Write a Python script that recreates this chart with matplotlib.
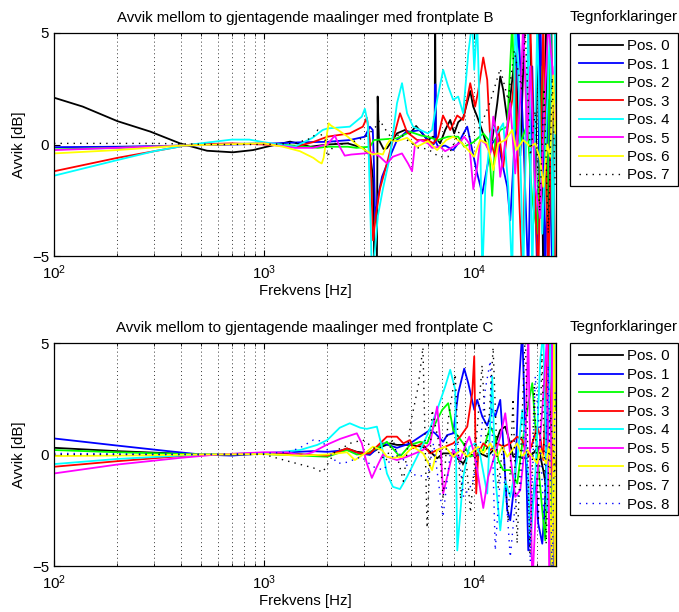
import matplotlib
matplotlib.use("Agg")
import matplotlib.pyplot as plt
from matplotlib.lines import Line2D
from matplotlib.patches import Rectangle
from matplotlib.ticker import LogLocator, NullFormatter, FixedLocator, LogFormatterSciNotation

plt.rcParams['font.family'] = ['Liberation Sans', 'DejaVu Sans']
plt.rcParams['font.size'] = 10.8
plt.rcParams['mathtext.fontset'] = 'custom'
plt.rcParams['mathtext.rm'] = 'Liberation Sans'

FS = 10.8

# ---------------- Frontplate B ----------------
b0_f = [100, 137, 200, 287, 398, 535, 710, 886, 1030, 1330, 1660, 2000, 2500, 2950, 3200, 3300, 3350, 3440,
        3470, 3520, 3700, 3840, 4290, 4680, 4950, 5290, 5650, 6020, 6370, 6480, 6516, 6560, 6885, 7275,
        7685, 8030, 8390, 8860, 9570, 9890, 10330, 10920, 11530, 12180, 12870, 13300, 13740, 14360,
        14840, 15670, 16560, 17490, 18480, 19520, 20170, 20800, 21310, 22000, 22510, 23260, 23780, 24300]
b0_db = [2.1, 1.7, 1.05, 0.58, 0.05, -0.28, -0.35, -0.25, -0.1, 0.13, -0.1, 0.0, 0.05, -0.15, -0.5, -1.5, -6, -6,
         2.15, 0.2, -0.2, -0.17, 0.5, 0.65, 0.5, 0.83, 0.5, 0.2, 0.35, 0.3, 6.0, 0.3, 0.05, 0.65,
         1.1, 0.5, 1.0, 1.2, 2.4, 1.7, 1.25, 0.6, -0.1, 0.2, 1.85, 3.05, 2.45, 1.1,
         2.1, 4.1, -0.5, 6.0, 4.5, -1.9, 6.0, 2.0, -6, 6.0, -6, 6.0, -6, 4.0]

b1_f = [100, 200, 400, 700, 1000, 1500, 2000, 2557, 3016, 3186, 3290, 3330, 3380, 3480, 3640, 3970,
        4290, 4790, 4950, 5530, 5970, 6400, 6480, 6530, 6580, 6730, 7280, 7940, 8390, 9260, 9780,
        10330, 10920, 11530, 12180, 12870, 13600, 14360, 14840, 15670, 16200, 17110, 18080, 18890,
        19950, 20620, 21780, 22510, 23520, 24300]
b1_db = [-0.12, -0.1, -0.05, 0.0, 0.03, 0.1, 0.12, 0.2, 0.35, 0.8, 0.65, -0.8, -3.4, -2.35, -1.45, -0.55,
         0.2, 0.6, 0.57, 0.65, 0.2, 0.0, 0.1, 2.7, 0.1, -0.1, -0.05, -0.25, 0.05, 0.8, -0.25,
         -1.3, -2.2, -1.0, 0.05, 0.35, -0.85, -1.9, -3.4, 0.6, 5.5, 0.5, -6, 3.5,
         -6, 6.0, -6, 2.0, -6, 5.0]

b2_f = [100, 200, 400, 700, 1000, 1400, 1800, 2000, 2500, 2750, 3190, 3330, 3680, 4290, 4790, 4950,
        5600, 6000, 6700, 7500, 8390, 8960, 9900, 11040, 11700, 12180, 12590, 13300, 14360, 15170,
        15670, 16560, 17880, 18890, 19950, 21080, 22270, 23010, 23780, 24300]
b2_db = [-0.22, -0.15, -0.05, 0.02, 0.05, -0.05, -0.15, -0.1, -0.1, -0.15, -0.1, 0.2, 0.23, 0.28, 0.5, 0.57,
         0.4, 0.35, 0.2, 0.35, 0.35, -0.1, 0.1, 0.5, 0.2, -2.3, 0.2, 0.65, 0.8, 5.5,
         0.8, 0.05, 0.9, -2.5, -4.0, 3.5, -3.4, 5.5, -6, 5.0]

b3_f = [100, 200, 300, 450, 700, 1000, 1400, 1700, 2000, 2557, 2950, 3083, 3186, 3300, 3400, 3556,
        3841, 4100, 4433, 4790, 5350, 6000, 6400, 6733, 7100, 7685, 8300, 8860, 9570, 10100, 10450,
        11040, 11530, 11920, 12590, 13000, 13740, 14520, 15170, 15670, 16200, 16930, 17880, 18480,
        19520, 20170, 21310, 22510, 23520, 24300]
b3_db = [-1.2, -0.6, -0.3, 0.0, 0.05, 0.0, -0.1, 0.1, 0.35, 0.5, 0.8, 1.2, 0.2, -4.3, -3.2, -2.0,
         -0.85, 0.2, 1.4, 0.55, 0.2, 0.2, 0.05, 0.35, 1.3, 0.65, 1.3, 1.1, 2.75, 1.7, 2.4,
         3.9, 2.9, 0.2, -0.55, 0.8, -1.0, 0.95, 2.0, 3.5, -1.3, -6, 2.8, 5.5,
         -2.5, -6, 5.5, -6, 3.5, -6]

b4_f = [100, 200, 300, 450, 700, 850, 1000, 1400, 1700, 1900, 2000, 2557, 2918, 3016, 3117, 3220,
        3257, 3366, 3479, 3675, 3970, 4290, 4532, 4790, 5115, 5525, 6020, 6300, 6660, 7115, 7518,
        7943, 8390, 8860, 9370, 9780, 10000, 10330, 10680, 10920, 11280, 11920, 12320, 12870, 13740,
        14520, 15170, 15670, 16200, 17110, 18080, 18890, 19950, 21080, 23010, 23780, 24300]
b4_db = [-1.4, -0.7, -0.3, 0.0, 0.22, 0.22, 0.1, -0.1, 0.3, 0.65, 0.72, 0.8, 1.25, 1.6, 0.95, -3.8,
         -6, -4.8, -3.2, -2.0, -0.55, 1.85, 2.75, 1.4, 0.8, 0.65, 0.5, 0.65, 2.0, 3.35, 2.6,
         2.0, 2.15, 1.4, 4.1, 5.5, 3.35, 5.5, 0.5, -6, -2.0, 0.5, 0.8, 0.5, 0.95,
         -1.9, -6, 5.5, 3.5, -6, 5.5, -6, 5.5, -4.0, 5.5, -6, 5.5]

b5_f = [100, 200, 400, 600, 1000, 1400, 1700, 2000, 2170, 2290, 2420, 2600, 3000, 3290, 3556, 3840,
        4100, 4530, 4840, 5060, 5230, 5525, 6020, 6300, 6885, 7270, 7940, 8480, 8960, 9470, 9900,
        10330, 10680, 11280, 11920, 12320, 12870, 13300, 13740, 14840, 15670, 16560, 17110, 17880,
        18480, 19520, 20620, 21310, 22510, 23520, 24300]
b5_db = [-0.25, -0.15, -0.05, 0.0, 0.05, -0.15, -0.15, 0.0, 0.4, -0.1, -0.5, -0.45, -0.4, -0.35, -0.55, -0.85,
         -0.55, -0.4, -0.85, -1.2, 0.05, 0.2, 0.05, -0.15, -0.1, -0.3, -0.1, 0.05, 0.35, 0.05, -2.0,
         -1.0, 0.2, 0.05, -0.4, 1.25, 0.35, -1.45, -0.55, 1.85, -1.3, 2.0, 5.5, 0.2,
         3.5, -1.9, -3.3, 0.5, 5.5, 3.5, 1.1]

b6_f = [100, 200, 400, 600, 1000, 1230, 1480, 1716, 1820, 1880, 1920, 1960, 2000, 2030, 2080, 2250, 2500,
        2760, 3016, 3290, 3500, 3675, 3840, 3970, 4290, 4790, 5345, 6020, 6660, 7360, 7940, 8770,
        9990, 10680, 11530, 12320, 13010, 14050, 15170, 15850, 17110, 18480, 19520, 20620, 21310,
        22270, 23010, 23780, 24300]
b6_db = [-0.4, -0.25, -0.05, 0.0, 0.05, -0.1, -0.3, -0.6, -0.78, -0.85, -0.6, 0.0, 0.6, 0.95, 0.85, 0.65, 0.35,
         0.0, -0.25, -0.45, -0.4, -0.45, 0.0, 0.2, 0.15, 0.3, -0.1, 0.15, -0.25, 0.2, 0.35, 0.05,
         -0.55, 0.2, 0.05, -1.15, 0.05, 0.2, 0.65, -0.25, 0.2, -0.1, 0.05, -0.7, -1.9,
         0.0, -0.55, 3.1, 0.5]

b7_f = [100, 300, 600, 1000, 1400, 1700, 1800, 1950, 2000, 2170, 2420, 2800, 3100, 3400, 3556, 3700,
        4100, 4430, 4790, 5400, 6000, 6800, 7500, 8500, 9500, 10700, 11900, 13300, 14500, 15500,
        16800, 17500, 18500, 19500, 20500, 21500, 22500, 23500, 24300]
b7_db = [0.05, 0.05, 0.0, 0.0, 0.05, 0.3, 0.65, 0.2, -0.55, 0.05, 0.0, 0.2, 0.4, 0.8, 1.1, 0.8,
         0.2, 0.5, 0.2, -0.15, -0.2, -0.55, -0.55, 0.6, 0.35, 0.8, 1.9, 3.4, 2.0, 4.2,
         2.5, 5.0, -0.5, 1.5, -3.0, 2.5, -4.0, 3.0, -2.0]

# ---------------- Frontplate C ----------------
c0_f = [100, 200, 500, 1000, 1500, 1800, 2000, 2480, 2760, 3186, 3635, 3970, 4290, 4950, 5650, 6166,
        6660, 7115, 7940, 8300, 8860, 9470, 10110, 10680, 11530, 12320, 13300, 14050, 14520, 15340,
        16200, 17110, 18080, 19100, 20170, 21310, 22270, 23010, 23780, 24300]
c0_db = [0.3, 0.15, 0.0, 0.05, 0.0, -0.05, -0.05, 0.27, 0.12, 0.05, 0.35, 0.5, 0.43, 0.43, 0.35, 0.13,
         -0.17, 0.05, 0.05, -0.17, -0.4, 0.05, -0.1, 0.05, -0.1, 0.2, 1.1, 1.25, 0.8, -0.1,
         -0.1, -0.17, -0.1, 0.05, 0.35, -0.7, -1.75, -1.0, 0.2, -0.5]

c1_f = [100, 200, 350, 500, 700, 1000, 1300, 1700, 2000, 2480, 2855, 3186, 3675, 4290, 4950, 5525,
        6166, 6516, 7115, 7430, 7940, 8390, 8960, 9370, 9680, 10010, 10330, 10920, 11530, 12180,
        12590, 13300, 13740, 14360, 14840, 15670, 16200, 16930, 17490, 18080, 18890, 19520, 20170,
        21080, 21780, 22510, 23260, 23780, 24300]
c1_db = [0.72, 0.4, 0.15, 0.0, -0.05, 0.05, 0.1, 0.15, 0.12, 0.2, 0.05, -0.02, 0.5, 0.3, 0.5, 0.8,
         1.1, 0.95, 0.57, 0.87, 0.95, 2.75, 3.85, 3.2, 2.6, 2.0, 2.45, 1.7, 1.3, 2.0,
         1.7, 2.45, 0.5, -2.5, -2.95, -1.0, 2.75, 5.5, 1.1, -4.3, -2.5, -1.0, -3.1,
         -4.0, -1.9, 3.5, 5.5, -6, -6]

c2_f = [100, 200, 500, 1000, 1500, 2000, 2480, 2760, 3083, 3441, 3841, 4433, 4950, 5525, 5966, 6373,
        7038, 7518, 7943, 8394, 8863, 9570, 10330, 11040, 11920, 12590, 13010, 13740, 14840, 16020,
        16930, 17880, 18890, 19950, 21080, 21780, 22510, 23010, 23780, 24300]
c2_db = [0.2, 0.1, 0.0, 0.02, -0.05, -0.1, 0.2, 0.0, 0.05, 0.28, 0.57, -0.1, 0.43, 0.57, 0.5, 1.2,
         2.0, 2.3, 1.1, 0.8, 0.5, -0.1, 0.05, 0.2, 1.25, 0.8, -0.25, -0.7, -0.7, -1.3,
         0.5, 2.0, 3.2, 0.05, -2.5, -3.85, 0.5, -6, 5.5, 2.0]

c3_f = [100, 200, 500, 1000, 1500, 2000, 2480, 2855, 3186, 3841, 4290, 4600, 4950, 5115, 5648, 6166,
        6660, 7275, 7937, 8580, 9264, 9783, 10000, 10220, 10450, 11040, 11920, 12870, 13740, 14840,
        16020, 16930, 17880, 18890, 19950, 20620, 21310, 22510, 23520, 24300]
c3_db = [-0.55, -0.3, 0.0, 0.02, 0.0, -0.05, 0.27, 0.05, 0.05, 0.8, 0.8, 0.5, 0.65, 0.28, 0.5, 0.05,
         0.2, 0.35, 0.5, 0.8, 1.25, 2.75, 4.4, -1.75, 0.05, 0.5, 0.2, 0.5, 0.35, 0.5,
         0.8, 0.65, -0.1, 0.5, 1.25, 0.8, -0.25, 5.5, -1.0, 5.5]

c4_f = [100, 200, 500, 1000, 1480, 1790, 2000, 2290, 2557, 2870, 3083, 3441, 3635, 3841, 4103, 4433,
        4790, 5345, 6000, 6660, 7275, 7685, 8121, 8303, 8865, 9470, 10110, 10680, 11530, 12180,
        12590, 13300, 14050, 14840, 16020, 16930, 18080, 18480, 19520, 20620, 21310, 22270, 23010,
        23780, 24300]
c4_db = [-0.43, -0.2, 0.0, 0.05, 0.2, 0.43, 0.65, 1.2, 1.4, 1.2, 1.15, 1.25, 0.35, -0.85, -1.45, -1.55,
         -1.0, -0.1, 0.9, 2.0, 3.05, 3.8, 2.9, -4.3, -1.0, 0.35, 0.5, -0.05, -1.75, 3.5,
         -1.0, -3.4, -1.2, -1.9, -0.25, 2.0, -1.0, -4.0, -1.0, 4.2, 5.5, -2.5, 5.5,
         0.5, 5.5]

c5_f = [100, 200, 400, 600, 1000, 1300, 1500, 1700, 2000, 2300, 2762, 2918, 3083, 3257, 3441, 3675,
        3841, 4289, 4788, 5229, 5700, 6166, 6660, 6885, 7115, 7436, 7943, 8580, 9160, 9470, 9900,
        10330, 11040, 11660, 12320, 13300, 14050, 14840, 15670, 16560, 17490, 18080, 18890, 19950,
        21080, 22270, 22760, 23520, 24300]
c5_db = [-0.85, -0.45, -0.15, 0.0, 0.1, 0.1, -0.05, 0.1, 0.45, 0.7, 0.95, 0.5, -0.4, -1.05, -0.55, 0.0,
         -0.1, -0.25, -0.1, 0.05, 0.2, 0.5, 2.15, 0.65, -1.75, -1.0, 0.2, -0.25, 0.5, 0.8, 0.2,
         -0.7, -2.4, -1.0, -0.25, 0.8, 1.85, 0.0, -1.9, -1.6, 0.5, 5.5, -6, -1.0,
         2.0, 5.5, -6, 5.5, -6]

c6_f = [100, 200, 500, 1000, 1500, 2000, 2480, 2702, 3016, 3293, 3635, 3841, 4100, 4580, 5115, 5710,
        6303, 6660, 7275, 7943, 8580, 9264, 10010, 10450, 11040, 11920, 12870, 13600, 14360, 15170,
        16020, 16930, 17880, 18890, 19950, 20620, 21310, 22000, 22760, 23520, 24000, 24300]
c6_db = [-0.07, -0.05, 0.0, 0.02, -0.05, 0.0, 0.1, -0.25, 0.05, 0.35, 0.2, -0.1, -0.15, -0.1, 0.35, 0.05,
         -0.7, 0.2, 0.35, -0.1, 0.2, -0.1, 0.2, 0.35, 0.05, 0.5, -0.1, 0.35, -0.1, 0.2,
         0.5, -0.1, 0.2, -0.1, -0.4, 0.2, -0.1, -0.4, 0.5, -6, 5.5, -6]

c7_f = [100, 500, 1000, 1300, 1716, 1900, 2000, 2200, 2370, 2557, 2950, 3441, 3800, 4100, 4600, 5000,
        5400, 5700, 5966, 6300, 6800, 7115, 7500, 8121, 8600, 9000, 9600, 10300, 10900, 11500,
        12300, 13000, 13700, 14500, 15300, 16000, 16800, 17500, 18400, 19300, 20200, 21000, 22000,
        23000, 24300]
c7_db = [0.0, 0.0, 0.0, -0.3, -0.6, -0.8, -0.45, 0.2, 0.3, 0.5, 0.65, 0.2, -0.3, 0.7, -1.2, 1.5,
         3.0, 4.8, -3.3, 2.0, 0.5, -2.0, 1.5, 3.6, -2.0, 0.6, -2.6, 1.0, 4.0, 0.0,
         4.8, -1.5, 0.5, -3.0, 2.5, -4.0, 1.0, 5.5, -4.5, 3.0, -3.0, 4.5, -4.0,
         2.0, -1.0]

c8_f = [100, 500, 1000, 1300, 1480, 1716, 1900, 2000, 2230, 2480, 2900, 3300, 3700, 4300, 5100, 6000,
        6400, 7100, 7700, 8300, 8900, 9800, 10700, 11280, 11920, 12590, 13300, 14050, 14840, 15670,
        16560, 17490, 18480, 19520, 20620, 21500, 22500, 23500, 24300]
c8_db = [0.05, 0.0, 0.05, 0.1, 0.3, 0.65, 0.6, 0.2, -0.4, -0.35, -0.1, -0.55, -0.7, 0.2, -0.9, -1.0,
         0.5, -2.8, 0.1, 0.6, -1.9, -1.3, 0.5, 2.9, 4.2, -4.3, -1.0, -1.3, -4.6, -2.2,
         -1.6, 1.9, -4.8, 3.5, 0.5, -3.0, 4.0, -5.5, 3.0]

labels_b = ['Pos. 0', 'Pos. 1', 'Pos. 2', 'Pos. 3', 'Pos. 4', 'Pos. 5', 'Pos. 6', 'Pos. 7']
labels_c = labels_b + ['Pos. 8']
titles = ['Avvik mellom to gjentagende maalinger med frontplate B',
          'Avvik mellom to gjentagende maalinger med frontplate C']
legend_title = 'Tegnforklaringer'
xlabel = 'Frekvens [Hz]'
ylabel = 'Avvik [dB]'

# MATLAB-like colour order used for the positions
DOT = (0, (1, 3.7))
styles = [('#000000', '-'), ('#0000ff', '-'), ('#00ff00', '-'), ('#ff0000', '-'), ('#00ffff', '-'),
          ('#ff00ff', '-'), ('#ffff00', '-'), ('#000000', DOT), ('#0000ff', DOT)]

series_b = [(b0_f, b0_db), (b1_f, b1_db), (b2_f, b2_db), (b3_f, b3_db), (b4_f, b4_db),
            (b5_f, b5_db), (b6_f, b6_db), (b7_f, b7_db)]
series_c = [(c0_f, c0_db), (c1_f, c1_db), (c2_f, c2_db), (c3_f, c3_db), (c4_f, c4_db),
            (c5_f, c5_db), (c6_f, c6_db), (c7_f, c7_db), (c8_f, c8_db)]

W, H = 679, 612
fig = plt.figure(figsize=(W / 100, H / 100), dpi=100)


def fx(px):
    return px / W


def fy(py):
    return 1 - py / H


def add_axes_px(left, top, right, bottom):
    return fig.add_axes([fx(left), fy(bottom), (right - left) / W, (bottom - top) / H])


def line_width(ls):
    return 1.0 if isinstance(ls, tuple) else 1.3


def draw_legend(top, labels, row_step):
    """Boxed legend to the right of a panel (pixel layout, MATLAB style)."""
    n = len(labels)
    first = top + 12
    bottom = first + row_step * (n - 1) + 11.5
    fig.add_artist(Rectangle((fx(570), fy(bottom)), (678 - 570) / W, (bottom - top) / H,
                             transform=fig.transFigure, facecolor='white', edgecolor='black',
                             linewidth=0.9, zorder=5))
    for i, (lab, (col, ls)) in enumerate(zip(labels, styles)):
        yc = first + row_step * i
        fig.add_artist(Line2D([fx(579), fx(623)], [fy(yc), fy(yc)], transform=fig.transFigure,
                              color=col, linestyle=ls, linewidth=line_width(ls), zorder=6))
        fig.text(fx(627), fy(yc + 5.3), lab, ha='left', va='baseline', fontsize=FS, zorder=6)
    fig.text(fx(624), fy(top - 12), legend_title, ha='center', va='baseline', fontsize=FS)


def draw_panel(ax, series, labels, title):
    for (f, db), (col, ls), lab in zip(series, styles, labels):
        ax.plot(f, db, color=col, linestyle=ls, linewidth=line_width(ls), label=lab)
    ax.set_xscale('log')
    ax.set_xlim(100, 24500)
    ax.set_ylim(-5, 5)
    ax.set_yticks([-5, 0, 5])
    ax.xaxis.set_major_locator(FixedLocator([100, 1000, 10000]))
    ax.xaxis.set_major_formatter(LogFormatterSciNotation())
    ax.xaxis.set_minor_locator(LogLocator(base=10, subs=range(2, 10)))
    ax.xaxis.set_minor_formatter(NullFormatter())
    ax.grid(True, which='both', axis='x', color='0.2', linestyle=(0, (1, 3)), linewidth=0.7)
    ax.tick_params(which='both', direction='in', top=True, right=True, labelsize=FS)
    ax.tick_params(which='major', length=4, width=0.8, pad=5)
    ax.tick_params(which='minor', length=2.5, width=0.6)
    ax.tick_params(axis='y', pad=3.5)
    for sp in ax.spines.values():
        sp.set_linewidth(0.9)
    ax.set_title(title, fontsize=FS, pad=8)
    ax.set_xlabel(xlabel, fontsize=FS, labelpad=1.5)
    ax.set_ylabel(ylabel, fontsize=FS, labelpad=4)


ax_b = add_axes_px(54, 33, 556, 256)
draw_panel(ax_b, series_b, labels_b, titles[0])
draw_legend(33, labels_b, 18.45)

ax_c = add_axes_px(54, 343, 556, 566)
draw_panel(ax_c, series_c, labels_c, titles[1])
draw_legend(343, labels_c, 18.55)

fig.savefig('out.png', dpi=100)
